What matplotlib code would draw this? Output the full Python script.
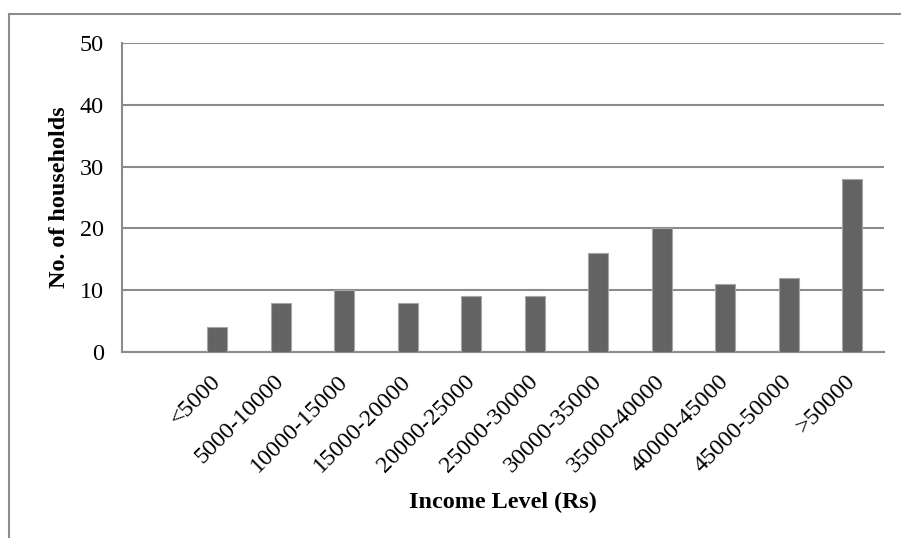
import matplotlib

matplotlib.use("Agg")
import matplotlib.pyplot as plt
from matplotlib.lines import Line2D

income_levels = [
    "<5000", "5000-10000", "10000-15000", "15000-20000", "20000-25000",
    "25000-30000", "30000-35000", "35000-40000", "40000-45000",
    "45000-50000", ">50000",
]
households = [4, 8, 10, 8, 9, 9, 16, 20, 11, 12, 28]
y_ticks = [0, 10, 20, 30, 40, 50]

W, H = 901, 538
plt.rcParams["font.family"] = ["Liberation Serif", "DejaVu Serif"]

fig = plt.figure(figsize=(W / 100, H / 100), dpi=100)
ax = fig.add_axes([122 / W, 1 - 352 / H, (884 - 122) / W, (352 - 43) / H])

grid_col = "#8c8c8c"
x = list(range(len(income_levels)))
ax.bar(x, households, width=0.32, color="#636363", edgecolor="#a6a6a6",
       linewidth=0.8, zorder=3)

ax.set_xlim(-1.5, len(income_levels) - 0.5)
ax.set_ylim(0, 50)
ax.set_yticks(y_ticks)
ax.yaxis.grid(True, color=grid_col, linewidth=1.5, zorder=0)
ax.set_axisbelow(True)

for side in ("top", "right"):
    ax.spines[side].set_visible(False)
for side in ("left", "bottom"):
    ax.spines[side].set_color(grid_col)
    ax.spines[side].set_linewidth(1.5)

fs = 17.4
ax.tick_params(axis="both", length=0, labelsize=fs, colors="black")
ax.tick_params(axis="y", pad=13)
ax.set_xticks(x)
ax.set_xticklabels(income_levels, rotation=45, ha="right", va="center",
                   rotation_mode="anchor")
ax.tick_params(axis="x", pad=19)

ax.set_ylabel("No. of households", fontsize=fs, fontweight="bold", labelpad=7)
ax.set_xlabel("Income Level (Rs)", fontsize=fs, fontweight="bold", labelpad=11)

# chart-area frame
fig.add_artist(Line2D([8.5 / W, 1.0], [1 - 13.5 / H] * 2, color=grid_col,
                      linewidth=1.5, transform=fig.transFigure))
fig.add_artist(Line2D([8.5 / W] * 2, [0.0, 1 - 13.5 / H], color=grid_col,
                      linewidth=1.5, transform=fig.transFigure))

fig.savefig("out.png", dpi=100)
